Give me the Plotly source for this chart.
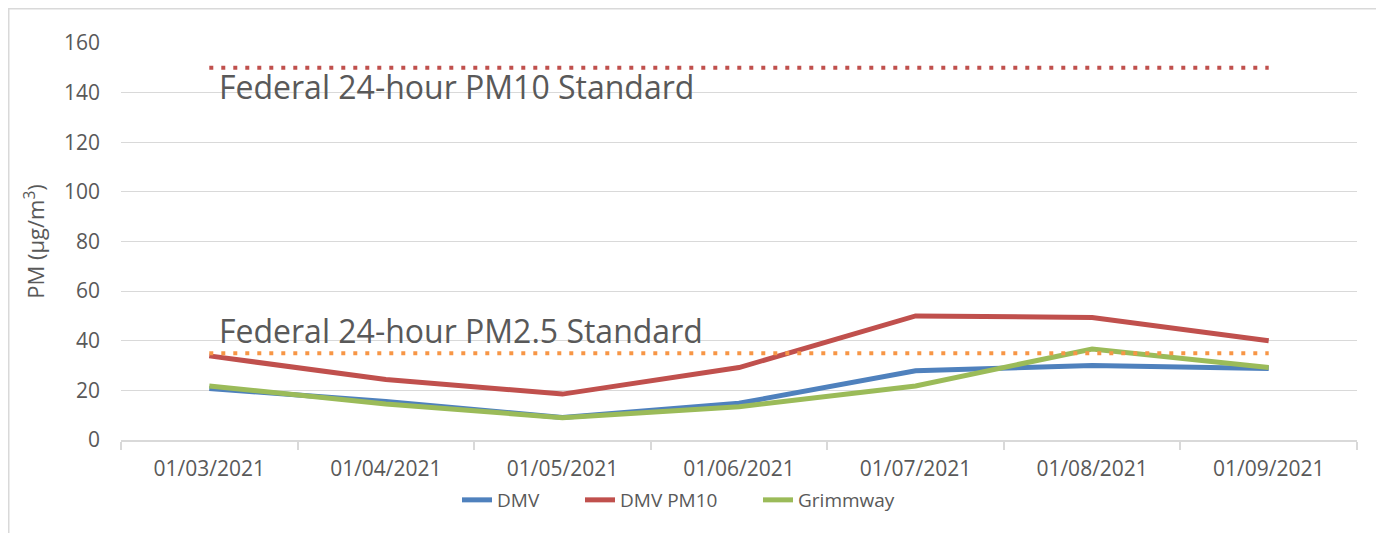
import plotly.graph_objects as go

categories = ["01/03/2021", "01/04/2021", "01/05/2021", "01/06/2021",
              "01/07/2021", "01/08/2021", "01/09/2021"]
dmv = [20.8, 15.5, 9.1, 14.8, 27.9, 30.0, 28.8]
dmv_pm10 = [33.9, 24.4, 18.5, 29.2, 50.0, 49.4, 40.0]
grimmway = [21.8, 14.5, 9.0, 13.4, 21.8, 36.7, 29.2]
pm10_standard = [150] * 7
pm25_standard = [35] * 7

# page body has an 8px margin, so the figure is sized to fit the window
W, H = 1376, 525
ML, MR, MT, MB = 113, 27, 35, 93
pw, ph = W - ML - MR, H - MT - MB

grey_text = "#595959"
grid = "#d9d9d9"
font_family = "Open Sans, Calibri, sans-serif"


def px_x(p):
    return (p - ML) / pw


def px_y(p):
    return (MT + ph - p) / ph


fig = go.Figure()
fig.add_trace(go.Scatter(x=categories, y=dmv, name="DMV", mode="lines", legend="legend",
                         line=dict(color="#4f81bd", width=5)))
fig.add_trace(go.Scatter(x=categories, y=dmv_pm10, name="DMV PM10", mode="lines", legend="legend2",
                         line=dict(color="#c0504d", width=5)))
fig.add_trace(go.Scatter(x=categories, y=grimmway, name="Grimmway", mode="lines", legend="legend3",
                         line=dict(color="#9bbb59", width=5)))
fig.add_trace(go.Scatter(x=categories, y=pm10_standard, name="PM10 Standard", mode="lines",
                         showlegend=False,
                         line=dict(color="#c0504d", width=4, dash="4px,8px")))
fig.add_trace(go.Scatter(x=categories, y=pm25_standard, name="PM2.5 Standard", mode="lines",
                         showlegend=False,
                         line=dict(color="#f79646", width=4, dash="4px,8px")))

fig.add_annotation(x=0.043, y=142.5, xref="x", yref="y", xanchor="left", yanchor="middle",
                   text="Federal 24-hour PM10 Standard", showarrow=False,
                   font=dict(size=32, color=grey_text, family=font_family))
fig.add_annotation(x=0.043, y=44, xref="x", yref="y", xanchor="left", yanchor="middle",
                   text="Federal 24-hour PM2.5 Standard", showarrow=False,
                   font=dict(size=32, color=grey_text, family=font_family))

# chart-area border
fig.add_shape(type="rect", xref="paper", yref="paper",
              x0=px_x(0.75), x1=px_x(W + 20),
              y0=px_y(H + 20), y1=px_y(0.75),
              line=dict(color=grid, width=1.5), fillcolor="rgba(0,0,0,0)", layer="below")

legend_common = dict(orientation="h", xanchor="left", yanchor="middle", y=px_y(492),
                     font=dict(size=19, color=grey_text), bgcolor="rgba(0,0,0,0)")

fig.update_layout(
    width=W, height=H,
    margin=dict(l=ML, r=MR, t=MT, b=MB, autoexpand=False),
    paper_bgcolor="white", plot_bgcolor="white",
    font=dict(family=font_family, color=grey_text, size=21),
    showlegend=True,
    legend=dict(x=px_x(491 - 42), **legend_common),
    legend2=dict(x=px_x(614 - 42), **legend_common),
    legend3=dict(x=px_x(792 - 42), **legend_common),
    xaxis=dict(type="category", range=[-0.5, 6.5], showgrid=False,
               showline=True, linecolor=grid, linewidth=1.5,
               ticks="outside", tickson="boundaries", ticklen=8, tickcolor=grid,
               tickwidth=1.5, tickfont=dict(size=21, color=grey_text),
               ticklabelstandoff=9,
               zeroline=False, fixedrange=True),
    yaxis=dict(range=[0, 160], dtick=20, showgrid=True, gridcolor=grid, gridwidth=1.2,
               zeroline=False, showline=False, ticks="",
               ticklabelstandoff=20,
               tickfont=dict(size=21, color=grey_text),
               title=dict(text="PM (µg/m<sup>3</sup>)", font=dict(size=22, color=grey_text),
                          standoff=13),
               automargin=False),
)

fig.write_html("out.html")
